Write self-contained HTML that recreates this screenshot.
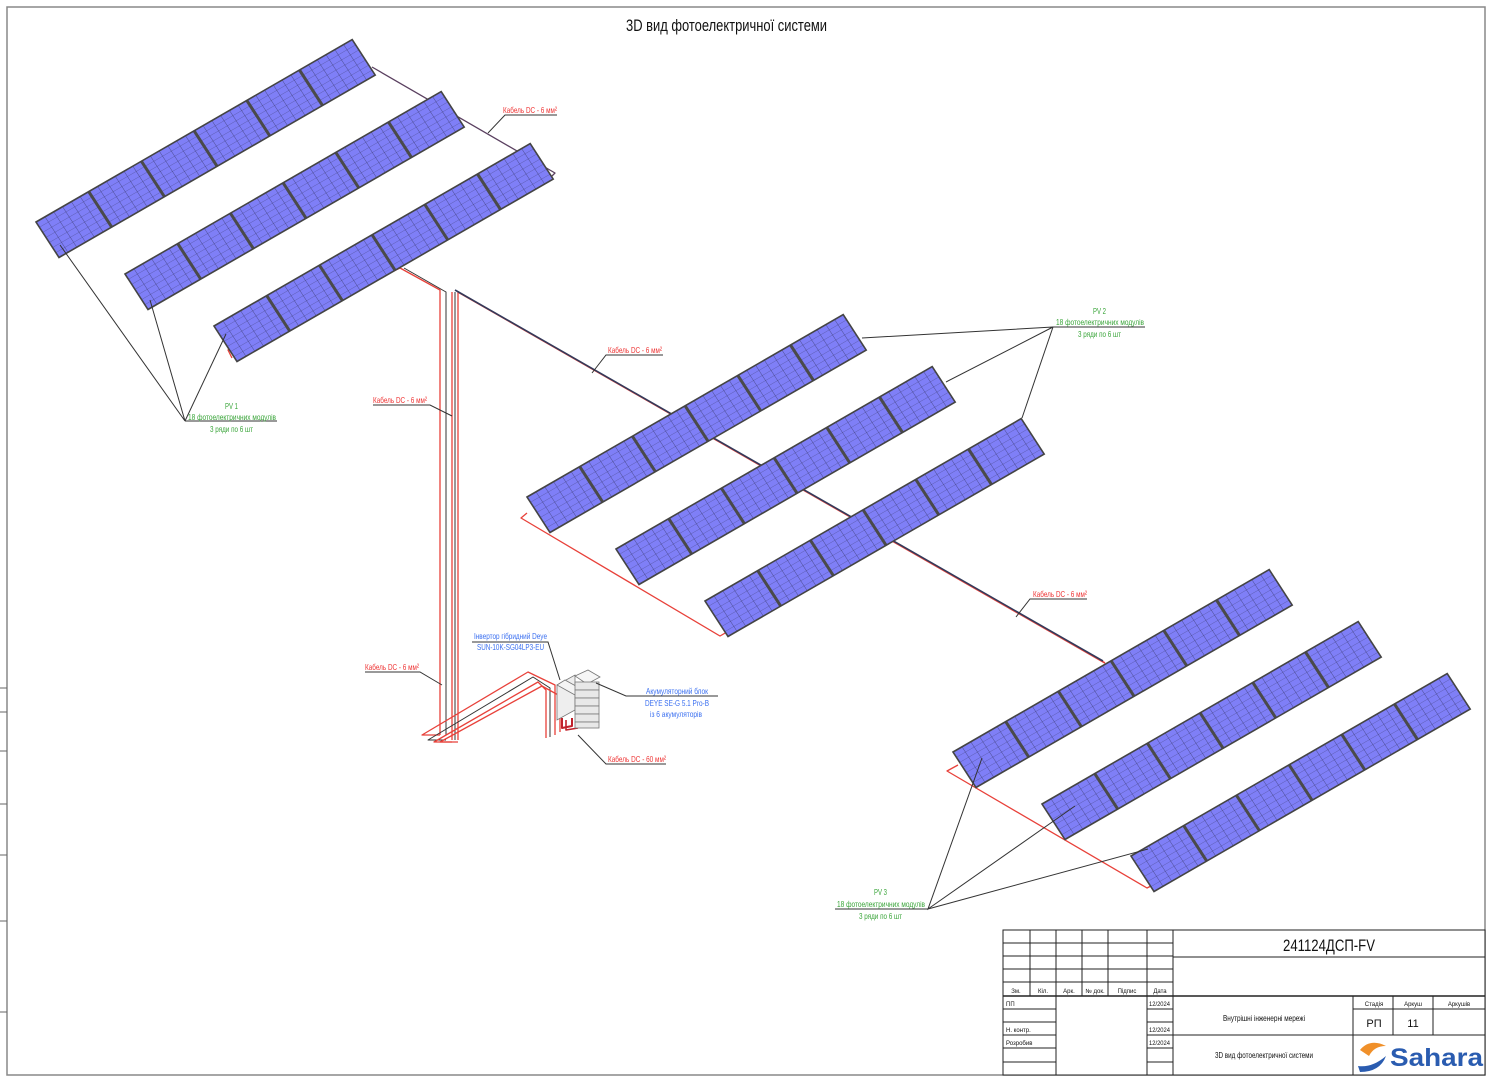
<!DOCTYPE html>
<html><head><meta charset="utf-8"><style>
html,body{margin:0;padding:0;background:#fff;}
svg{display:block;}
text{font-family:"Liberation Sans",sans-serif;}
</style></head><body>
<svg width="1492" height="1080" viewBox="0 0 1492 1080" xmlns="http://www.w3.org/2000/svg">
<defs>
<pattern id="cells" patternUnits="userSpaceOnUse" width="0.16667" height="0.14286">
<rect width="0.16667" height="0.14286" fill="#7f7ff7"/>
<path d="M0 0H0.16667M0 0V0.14286" stroke="#3a3a70" stroke-width="0.012" fill="none"/>
</pattern>
<g id="row">
<rect x="0" y="0" width="6" height="1" fill="url(#cells)"/>
<path d="M1 0V1M2 0V1M3 0V1M4 0V1M5 0V1" stroke="#4a4a4a" stroke-width="3" vector-effect="non-scaling-stroke"/>
<rect x="0" y="0" width="6" height="1" fill="none" stroke="#444" stroke-width="1.6" vector-effect="non-scaling-stroke"/>
</g>
</defs>
<rect x="0" y="0" width="1492" height="1080" fill="#fff"/>
<rect x="7" y="7" width="1478" height="1068" fill="none" stroke="#888" stroke-width="1.5"/>
<g stroke="#666" stroke-width="1">
<path d="M0 688H7M0 712H7M0 751H7M0 804H7M0 855H7M0 921H7M0 1012H7"/>
</g>
<text x="626" y="31" font-size="17" textLength="201" lengthAdjust="spacingAndGlyphs" fill="#111">3D вид фотоелектричної системи</text>

<!-- cables -->
<g fill="none" stroke-linejoin="round">
<polyline points="372,67 555,173 548,180" stroke="#5a4060" stroke-width="1.3"/>
<polyline points="400,268 228,350 232,358" stroke="#e8413a" stroke-width="1.3"/>
<polyline points="400,268 440,290 440,735" stroke="#e8413a" stroke-width="1.3"/>
<polyline points="404,268 446,292 446,735" stroke="#333" stroke-width="1"/>
<polyline points="452,292 452,740" stroke="#e8413a" stroke-width="1.3"/>
<polyline points="455,292 455,740" stroke="#333" stroke-width="1"/>
<polyline points="458,292 458,740" stroke="#e8413a" stroke-width="1.3"/>
<polyline points="458,292 1105,663" stroke="#e8413a" stroke-width="1.6"/>
<polyline points="455,290 1103,661" stroke="#333a5a" stroke-width="1.6"/>
<polyline points="527,513 521,518 720,636 744,622" stroke="#e8413a" stroke-width="1.3"/>
<polyline points="958,765 947,771 1147,888 1155,884" stroke="#e8413a" stroke-width="1.3"/>
<polyline points="440,735 422,735 528,672 555,685 555,735" stroke="#e8413a" stroke-width="1.3"/>
<polyline points="446,740 428,740 533,677 550,688 550,737" stroke="#333" stroke-width="1"/>
<polyline points="452,742 434,742 538,682 546,690 546,738" stroke="#e8413a" stroke-width="1.3"/>
<polyline points="458,742 440,742 542,686 560,696 560,732" stroke="#e8413a" stroke-width="1.3"/>
<polyline points="562,718 562,728 572,726 572,718" stroke="#c0202a" stroke-width="2"/>
<polyline points="566,720 566,730 578,728" stroke="#c0202a" stroke-width="1.6"/>
</g>

<g stroke="#777" stroke-width="0.8">
<polygon points="557,685 575,675 575,710 557,720" fill="#eee"/>
<polygon points="557,685 565,680 583,690 575,695" fill="#f4f4f4"/>
<polygon points="575,676 588,670 600,677 587,684" fill="#f6f6f6"/>
<rect x="575" y="682" width="24" height="8" fill="#e8e8e8"/>
<rect x="575" y="690" width="24" height="8" fill="#e8e8e8"/>
<rect x="575" y="698" width="24" height="8" fill="#e8e8e8"/>
<rect x="575" y="706" width="24" height="8" fill="#e8e8e8"/>
<rect x="575" y="714" width="24" height="8" fill="#e8e8e8"/>
<rect x="575" y="722" width="24" height="6" fill="#e8e8e8"/>
</g>

<use href="#row" transform="matrix(52.7,-30.4,23,35.5,36,222)"/>
<use href="#row" transform="matrix(52.7,-30.4,23,35.5,125,274)"/>
<use href="#row" transform="matrix(52.7,-30.4,23,35.5,214,326)"/>
<use href="#row" transform="matrix(52.7,-30.4,23,35.5,527,497)"/>
<use href="#row" transform="matrix(52.7,-30.4,23,35.5,616,549)"/>
<use href="#row" transform="matrix(52.7,-30.4,23,35.5,705,601)"/>
<use href="#row" transform="matrix(52.7,-30.4,23,35.5,953,752)"/>
<use href="#row" transform="matrix(52.7,-30.4,23,35.5,1042,804)"/>
<use href="#row" transform="matrix(52.7,-30.4,23,35.5,1131,856)"/>

<g stroke="#333" stroke-width="1" fill="none">
<polyline points="60,245 185,421 150,300"/>
<polyline points="185,421 226,334"/>
<line x1="185" y1="421" x2="277" y2="421"/>
<polyline points="862,338 1053,327 946,382"/>
<polyline points="1053,327 1022,418"/>
<line x1="1053" y1="327" x2="1145" y2="327"/>
<polyline points="982,758 928,909 1075,806"/>
<polyline points="928,909 1148,849"/>
<line x1="835" y1="909" x2="928" y2="909"/>
<polyline points="488,133 505,115 557,115"/>
<polyline points="592,373 606,355 663,355"/>
<polyline points="452,416 430,405 373,405"/>
<polyline points="442,685 420,672 365,672"/>
<polyline points="1016,617 1030,599 1087,599"/>
<polyline points="578,735 606,764 666,764"/>
<polyline points="560,680 548,642 472,642"/>
<polyline points="596,683 626,696 718,696"/>
</g>

<g font-size="8.5">
<g fill="#e33">
<text x="503" y="113" textLength="54" lengthAdjust="spacingAndGlyphs">Кабель DC - 6 мм²</text>
<text x="608" y="353" textLength="54" lengthAdjust="spacingAndGlyphs">Кабель DC - 6 мм²</text>
<text x="373" y="403" textLength="54" lengthAdjust="spacingAndGlyphs">Кабель DC - 6 мм²</text>
<text x="365" y="670" textLength="54" lengthAdjust="spacingAndGlyphs">Кабель DC - 6 мм²</text>
<text x="1033" y="597" textLength="54" lengthAdjust="spacingAndGlyphs">Кабель DC - 6 мм²</text>
<text x="608" y="762" textLength="58" lengthAdjust="spacingAndGlyphs">Кабель DC - 60 мм²</text>
</g>
<g fill="#3aa53a">
<text x="225" y="409" textLength="13" lengthAdjust="spacingAndGlyphs">PV 1</text>
<text x="188" y="420" textLength="88" lengthAdjust="spacingAndGlyphs">18 фотоелектричних модулів</text>
<text x="210" y="432" textLength="43" lengthAdjust="spacingAndGlyphs">3 ряди по 6 шт</text>
<text x="1093" y="314" textLength="13" lengthAdjust="spacingAndGlyphs">PV 2</text>
<text x="1056" y="325" textLength="88" lengthAdjust="spacingAndGlyphs">18 фотоелектричних модулів</text>
<text x="1078" y="337" textLength="43" lengthAdjust="spacingAndGlyphs">3 ряди по 6 шт</text>
<text x="874" y="895" textLength="13" lengthAdjust="spacingAndGlyphs">PV 3</text>
<text x="837" y="907" textLength="88" lengthAdjust="spacingAndGlyphs">18 фотоелектричних модулів</text>
<text x="859" y="919" textLength="43" lengthAdjust="spacingAndGlyphs">3 ряди по 6 шт</text>
</g>
<g fill="#3a6ff0">
<text x="474" y="639" textLength="73" lengthAdjust="spacingAndGlyphs">Інвертор гібридний Deye</text>
<text x="477" y="650" textLength="67" lengthAdjust="spacingAndGlyphs">SUN-10K-SG04LP3-EU</text>
<text x="646" y="694" textLength="62" lengthAdjust="spacingAndGlyphs">Акумуляторний блок</text>
<text x="645" y="706" textLength="64" lengthAdjust="spacingAndGlyphs">DEYE SE-G 5.1 Pro-B</text>
<text x="650" y="717" textLength="52" lengthAdjust="spacingAndGlyphs">із 6 акумуляторів</text>
</g>
</g>

<g stroke="#222" stroke-width="1" fill="none">
<rect x="1003" y="930" width="482" height="145" fill="#fff"/>
<path d="M1030 930V996M1056 930V1075M1082 930V996M1108 930V996M1147 930V1075M1173 930V1075"/>
<path d="M1003 943H1173M1003 956H1173M1003 969H1173M1003 982H1173"/>
<path d="M1003 996H1485" stroke-width="1.5"/>
<path d="M1003 1009H1056M1147 1009H1173M1003 1022H1056M1147 1022H1173M1003 1035H1056M1147 1035H1173M1003 1048H1056M1147 1048H1173M1003 1062H1056M1147 1062H1173"/>
<path d="M1173 957H1485M1173 1035H1485M1353 996V1075M1393 996V1035M1433 996V1035M1353 1009H1485"/>
</g>
<g font-size="6" fill="#111">
<text x="1016" y="993" text-anchor="middle">Зм.</text>
<text x="1043" y="993" text-anchor="middle">Кіл.</text>
<text x="1069" y="993" text-anchor="middle">Арк.</text>
<text x="1095" y="993" text-anchor="middle">№ док.</text>
<text x="1127" y="993" text-anchor="middle">Підпис</text>
<text x="1160" y="993" text-anchor="middle">Дата</text>
<text x="1006" y="1006">ПП</text>
<text x="1006" y="1032">Н. контр.</text>
<text x="1006" y="1045">Розробив</text>
<text x="1149" y="1006" textLength="21" lengthAdjust="spacingAndGlyphs">12/2024</text>
<text x="1149" y="1032" textLength="21" lengthAdjust="spacingAndGlyphs">12/2024</text>
<text x="1149" y="1045" textLength="21" lengthAdjust="spacingAndGlyphs">12/2024</text>
<text x="1374" y="1006" text-anchor="middle">Стадія</text>
<text x="1413" y="1006" text-anchor="middle">Аркуш</text>
<text x="1459" y="1006" text-anchor="middle">Аркушів</text>
</g>
<text x="1283" y="951" font-size="17" textLength="92" lengthAdjust="spacingAndGlyphs" fill="#111">241124ДСП-FV</text>
<text x="1223" y="1021" font-size="8.5" textLength="82" lengthAdjust="spacingAndGlyphs" fill="#111">Внутрішні інженерні мережі</text>
<text x="1215" y="1058" font-size="8.5" textLength="98" lengthAdjust="spacingAndGlyphs" fill="#111">3D вид фотоелектричної системи</text>
<text x="1374" y="1027" font-size="11" text-anchor="middle" fill="#111">РП</text>
<text x="1413" y="1027" font-size="11" text-anchor="middle" fill="#111">11</text>
<path d="M1360 1050 Q1370 1038 1386 1046 Q1374 1046 1369 1056 Z" fill="#f0902a"/>
<path d="M1358 1066 Q1372 1068 1386 1056 Q1380 1072 1360 1072 Z" fill="#2a5cb0"/>
<text x="1390" y="1066" font-size="25" font-weight="bold" textLength="93" lengthAdjust="spacingAndGlyphs" fill="#2a5cb0">Sahara</text>
</svg>
</body></html>
